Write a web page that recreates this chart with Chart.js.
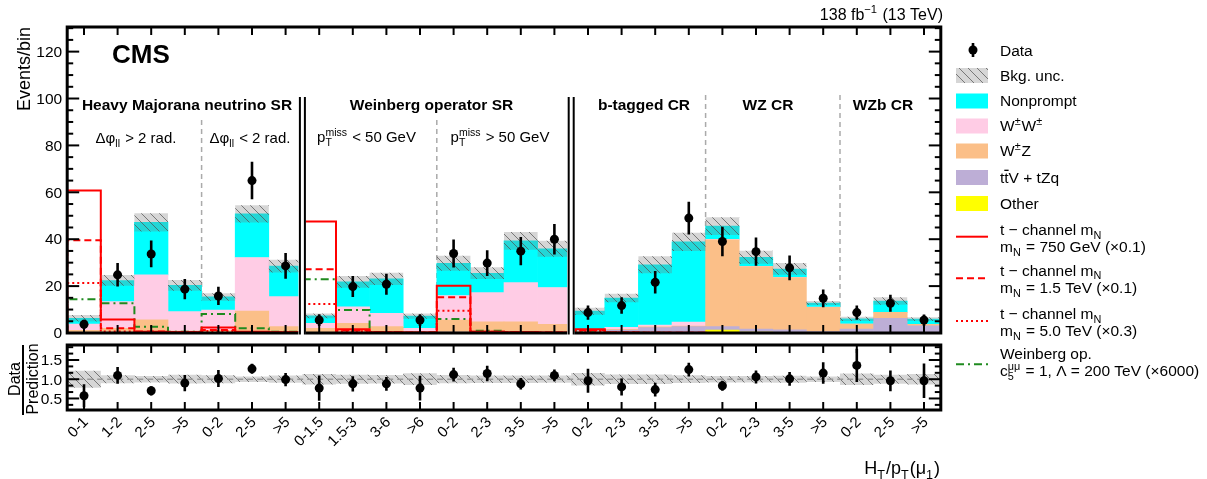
<!DOCTYPE html>
<html lang="en">
<head>
  <meta charset="UTF-8" />
  <title>CMS HT/pT(mu1) yields</title>
  <script src="https://cdn.jsdelivr.net/npm/chart.js"></script>
  <style>
    body { margin: 0; background: #fff; }
    #wrap { position: relative; width: 1207px; height: 479px; }
    canvas { position: absolute; left: 0; }
  </style>
</head>
<body>
  <div id="wrap">
    <canvas id="mainChart" width="1207" height="479" style="top:0"></canvas>
    <canvas id="ratioChart" width="1207" height="139" style="top:340px"></canvas>
  </div>

  <script>
    const binLabels = ['0-1', '1-2', '2-5', '>5', '0-2', '2-5', '>5',
      '0-1.5', '1.5-3', '3-6', '>6', '0-2', '2-3', '3-5', '>5',
      '0-2', '2-3', '3-5', '>5', '0-2', '2-3', '3-5', '>5', '0-2', '2-5', '>5'];
    const panelEdges = [0, 7, 15, 26];
    const subEdges = [4, 11, 19, 23];

    // stacked backgrounds, bottom to top
    const other     = [0.1, 0.1, 0.2, 0.1, 0.1, 0.2, 0.1, 0.1, 0.1, 0.1, 0.0, 0.1, 0.1, 0.1, 0.1, 0.1, 0.1, 0.2, 0.2, 1.2, 0.4, 0.2, 0.1, 0.1, 0.2, 0.1];
    const ttv       = [0.2, 0.3, 0.5, 0.2, 0.2, 0.5, 0.3, 0.2, 0.3, 0.2, 0.1, 0.3, 0.3, 0.3, 0.3, 0.4, 1.1, 2.1, 2.5, 1.5, 1.3, 1.1, 0.5, 1.6, 6.1, 3.0];
    const wz        = [0.8, 1.6, 4.9, 0.5, 0.7, 8.7, 2.3, 1.7, 3.7, 2.4, 0.4, 5.1, 4.4, 4.4, 3.3, 0.2, 0.4, 0.3, 0.3, 37.0, 26.6, 22.3, 10.4, 2.1, 2.5, 0.6];
    const ww        = [2.7, 11.4, 19.2, 8.3, 8.8, 22.8, 12.8, 2.1, 7.1, 5.7, 1.5, 10.5, 12.4, 16.7, 15.7, 0.3, 0.8, 0.8, 1.7, 0.2, 0.1, 0.1, 0.1, 0.0, 0.0, 0.0];
    const nonprompt = [2.5, 9.0, 22.4, 11.2, 5.6, 18.6, 13.0, 3.2, 10.6, 14.7, 5.2, 13.7, 8.3, 17.8, 16.5, 8.3, 12.5, 25.7, 34.2, 5.7, 3.9, 3.6, 1.7, 2.2, 4.8, 2.2];
    const bkgUnc    = [1.4, 2.3, 3.9, 2.3, 1.6, 3.7, 2.7, 1.0, 2.5, 2.6, 1.1, 3.2, 2.5, 3.8, 3.4, 1.5, 1.8, 3.6, 3.9, 3.8, 2.8, 2.5, 0.9, 0.9, 1.6, 0.8];

    const dataVals = [3.7, 24.8, 33.7, 18.7, 15.8, 65.0, 28.6, 5.5, 19.8, 20.8, 5.5, 33.9, 29.8, 34.9, 40.0, 8.7, 11.7, 21.6, 49.0, 39.0, 34.7, 27.8, 14.8, 8.7, 12.7, 5.5];
    const dataErr  = [2.0, 5.0, 5.7, 4.3, 3.9, 8.0, 5.5, 2.5, 4.5, 4.5, 2.5, 6.0, 5.5, 6.0, 6.5, 3.0, 3.5, 4.8, 7.0, 6.3, 6.0, 5.3, 3.8, 3.0, 3.6, 2.4];

    const ratioVals = [0.57, 1.10, 0.70, 0.90, 1.02, 1.27, 0.99, 0.77, 0.88, 0.88, 0.77, 1.12, 1.15, 0.88, 1.10, 0.96, 0.80, 0.73, 1.25, 0.83, 1.06, 1.01, 1.16, 1.36, 0.96, 0.96];
    const ratioErr  = [0.30, 0.22, 0.12, 0.21, 0.22, 0.13, 0.17, 0.33, 0.20, 0.18, 0.32, 0.18, 0.20, 0.15, 0.15, 0.31, 0.22, 0.18, 0.18, 0.13, 0.17, 0.18, 0.28, 0.43, 0.27, 0.45];

    // signals (already scaled as in the legend)
    const sigN750     = [60.8, 5.8, 0.5, 0.3, 2.3, 0.5, 0.3, 47.5, 1.6, 0.3, 0.2, 20.2, 0.5, 0.3, 0.2, 1.6, 0.2, 0.1, 0.1, 0, 0, 0, 0, 0, 0, 0];
    const sigN1500    = [39.6, 2.0, 0.6, 0.3, 1.3, 0.4, 0.2, 27.2, 1.1, 0.3, 0.2, 15.2, 0.5, 0.3, 0.2, 1.2, 0.2, 0.1, 0.1, 0, 0, 0, 0, 0, 0, 0];
    const sigN5000    = [21.3, 0.6, 0.3, 0.2, 0.8, 0.3, 0.2, 12.4, 0.7, 0.2, 0.1, 9.5, 0.4, 0.2, 0.1, 0.8, 0.1, 0.1, 0, 0, 0, 0, 0, 0, 0, 0];
    const sigWeinberg = [14.4, 12.7, 2.7, 0.5, 8.1, 2.0, 0.5, 22.9, 9.8, 0.4, 0.1, 6.0, 1.0, 0.3, 0.1, 1.0, 0.2, 0.1, 0, 0, 0, 0, 0, 0, 0, 0];

    const yTicksMain = [0, 20, 40, 60, 80, 100, 120];
    const yTicksRatio = [0.5, 1.0, 1.5];

    const FONT = '"Liberation Sans", Arial, Helvetica, sans-serif';
    const RED = '#ff0000';
    const GREEN = '#1f8a1f';
    const colors = { other: '#ffff00', ttv: '#bdaed6', wz: '#fbbf88', ww: '#ffcce5', nonprompt: '#00ffff' };

    const mainCanvas = document.getElementById('mainChart');
    const mainCtx = mainCanvas.getContext('2d');

    function makeHatch(ctx) {
      const c = document.createElement('canvas');
      c.width = 9; c.height = 9;
      const g = c.getContext('2d');
      g.fillStyle = 'rgba(120,120,120,0.3)';
      g.fillRect(0, 0, 9, 9);
      g.strokeStyle = 'rgba(80,80,80,0.7)';
      g.lineWidth = 1;
      g.beginPath();
      g.moveTo(0, 0); g.lineTo(9, 9);
      g.moveTo(-1, 8); g.lineTo(1, 10);
      g.moveTo(8, -1); g.lineTo(10, 1);
      g.stroke();
      return ctx.createPattern(c, 'repeat');
    }
    const hatch = makeHatch(mainCtx);

    const totals = nonprompt.map((_, i) => other[i] + ttv[i] + wz[i] + ww[i] + nonprompt[i]);

    function stackSets() {
      const cum = new Array(binLabels.length).fill(0);
      return [[other, colors.other], [ttv, colors.ttv], [wz, colors.wz], [ww, colors.ww], [nonprompt, colors.nonprompt]].map(([vals, col]) => {
        const d = vals.map((v, i) => { const lo = cum[i]; cum[i] += v; return { x: i + 0.5, y: [lo, cum[i]] }; });
        return { type: 'bar', data: d, backgroundColor: col, borderWidth: 0, grouped: false, barPercentage: 1, categoryPercentage: 1, order: 4 };
      });
    }

    function stepPoints(vals) {
      const pts = [];
      for (let p = 0; p < 3; p++) {
        const a = panelEdges[p], b = panelEdges[p + 1];
        pts.push({ x: a, y: 0 });
        for (let i = a; i < b; i++) pts.push({ x: i, y: vals[i] });
        pts.push({ x: b, y: vals[b - 1] });
        pts.push({ x: b, y: 0 });
        pts.push({ x: b, y: null });
      }
      return pts;
    }

    function sigSet(vals, color, dash) {
      return { type: 'line', data: stepPoints(vals), borderColor: color, borderWidth: 2, borderDash: dash, stepped: true, pointRadius: 0, fill: false, spanGaps: false, order: 2 };
    }

    function drawRich(ctx, parts, x, y, size, align, bold) {
      const w0 = bold ? 'bold ' : '';
      const small = size * 0.7;
      const segs = parts.map(p => typeof p === 'string' ? { t: p } : Object.assign({}, p));
      let total = 0;
      segs.forEach(s => {
        if (s.t !== undefined) {
          ctx.font = `${w0}${size}px ${FONT}`;
          s.w = ctx.measureText(s.t).width;
        } else {
          ctx.font = `${small}px ${FONT}`;
          s.w = Math.max(s.sub ? ctx.measureText(s.sub).width : 0, s.sup ? ctx.measureText(s.sup).width : 0) + 1;
        }
        total += s.w;
      });
      let cx = align === 'right' ? x - total : align === 'center' ? x - total / 2 : x;
      ctx.textAlign = 'left';
      ctx.textBaseline = 'alphabetic';
      segs.forEach(s => {
        if (s.t !== undefined) {
          ctx.font = `${w0}${size}px ${FONT}`;
          ctx.fillText(s.t, cx, y);
          if (s.bar) ctx.fillRect(cx, y - size * 0.86, s.w, 1.3);
        } else {
          ctx.font = `${small}px ${FONT}`;
          if (s.sub) ctx.fillText(s.sub, cx, y + size * 0.25);
          if (s.sup) ctx.fillText(s.sup, cx, y - size * 0.42);
        }
        cx += s.w;
      });
    }

    function line(ctx, x1, y1, x2, y2) {
      ctx.beginPath(); ctx.moveTo(x1, y1); ctx.lineTo(x2, y2); ctx.stroke();
    }

    function drawErrors(chart, vals, errs) {
      const { ctx, chartArea: a, scales: { x, y } } = chart;
      ctx.save();
      ctx.beginPath(); ctx.rect(a.left, a.top, a.width, a.height); ctx.clip();
      ctx.strokeStyle = '#000';
      ctx.lineWidth = 2.6;
      vals.forEach((v, i) => {
        const px = x.getPixelForValue(i + 0.5);
        line(ctx, px, y.getPixelForValue(v - errs[i]), px, y.getPixelForValue(v + errs[i]));
      });
      ctx.restore();
    }

    function drawFrame(chart, major, minor, fmt) {
      const { ctx, chartArea: a, scales: { x, y } } = chart;
      ctx.save();
      ctx.strokeStyle = '#000';
      ctx.lineWidth = 2;
      for (let i = 0; i < binLabels.length; i++) {
        const px = x.getPixelForValue(i + 0.5);
        line(ctx, px, a.top, px, a.top + 8);
        line(ctx, px, a.bottom, px, a.bottom - 8);
      }
      minor.forEach(v => {
        const py = y.getPixelForValue(v);
        line(ctx, a.left, py, a.left + 6, py);
        line(ctx, a.right, py, a.right - 6, py);
      });
      major.forEach(v => {
        const py = y.getPixelForValue(v);
        line(ctx, a.left, py, a.left + 12, py);
        line(ctx, a.right, py, a.right - 12, py);
      });
      ctx.lineWidth = 3;
      ctx.strokeRect(a.left, a.top, a.width, a.height);
      ctx.fillStyle = '#000';
      ctx.font = `15.5px ${FONT}`;
      ctx.textAlign = 'right';
      ctx.textBaseline = 'middle';
      major.forEach(v => ctx.fillText(fmt(v), a.left - 5, y.getPixelForValue(v) + 1));
      ctx.restore();
    }

    function drawLegend(ctx) {
      const bx = 956, bw = 32, tx = 1000, fs = 15.5;
      ctx.save();
      ctx.fillStyle = '#000';
      // Data
      ctx.lineWidth = 2.6; ctx.strokeStyle = '#000';
      line(ctx, bx + 17, 43, bx + 17, 57);
      ctx.beginPath(); ctx.arc(bx + 17, 50, 4.5, 0, Math.PI * 2); ctx.fill();
      drawRich(ctx, ['Data'], tx, 55.5, fs);
      // boxes
      const boxes = [
        [hatch, 68, ['Bkg. unc.'], 75],
        [colors.nonprompt, 93.5, ['Nonprompt'], 100.7],
        [colors.ww, 118.5, ['W', { sup: '±' }, 'W', { sup: '±' }], 125.7],
        [colors.wz, 143.5, ['W', { sup: '±' }, 'Z'], 150.7],
        [colors.ttv, 170, ['t', { t: 't', bar: true }, 'V + tZq'], 177.5],
        [colors.other, 196, ['Other'], 203.3]
      ];
      boxes.forEach(([fill, top, parts, yc]) => {
        ctx.fillStyle = fill;
        ctx.fillRect(bx, top, bw, 15);
        ctx.fillStyle = '#000';
        drawRich(ctx, parts, tx, yc + 5.5, fs);
      });
      const lines = [
        [RED, [], 236.7, ['t − channel m', { sub: 'N' }], ['m', { sub: 'N' }, ' = 750 GeV (×0.1)'], 229.3],
        [RED, [7, 4], 278.3, ['t − channel m', { sub: 'N' }], ['m', { sub: 'N' }, ' = 1.5 TeV (×0.1)'], 270],
        [RED, [2, 3], 321, ['t − channel m', { sub: 'N' }], ['m', { sub: 'N' }, ' = 5.0 TeV (×0.3)'], 313.3],
        [GREEN, [8, 4, 2, 4], 364.3, ['Weinberg op.'], ['c', { sub: '5', sup: 'μμ' }, ' = 1, Λ = 200 TeV (×6000)'], 353.3]
      ];
      lines.forEach(([col, dash, ly, l1, l2, yc]) => {
        ctx.strokeStyle = col; ctx.lineWidth = 2; ctx.setLineDash(dash);
        line(ctx, bx, ly, bx + bw, ly);
        ctx.setLineDash([]);
        drawRich(ctx, l1, tx, yc + 5.5, fs);
        drawRich(ctx, l2, tx, yc + 23, fs);
      });
      ctx.restore();
    }

    const mainDecor = {
      id: 'mainDecor',
      beforeDatasetsDraw(chart) {
        const { ctx, chartArea: a, scales: { x } } = chart;
        const tops = [120, 120, 95, 95];
        ctx.save();
        ctx.strokeStyle = '#aaaaaa'; ctx.lineWidth = 1.5; ctx.setLineDash([5, 4]);
        subEdges.forEach((e, k) => {
          const px = x.getPixelForValue(e);
          line(ctx, px, tops[k], px, a.bottom);
        });
        ctx.restore();
      },
      afterDatasetsDraw(chart) {
        const { ctx, chartArea: a, scales: { x } } = chart;
        drawErrors(chart, dataVals, dataErr);
        const minor = [];
        for (let v = 5; v <= 130; v += 5) if (v % 20 !== 0) minor.push(v);
        drawFrame(chart, yTicksMain, minor, v => String(v));

        // panel separators
        ctx.save();
        [panelEdges[1], panelEdges[2]].forEach(e => {
          const px = x.getPixelForValue(e);
          ctx.fillStyle = '#fff';
          ctx.fillRect(px - 4, 97, 7.5, a.bottom + 3 - 97);
          ctx.fillStyle = '#000';
          ctx.fillRect(px - 3.5, 97, 2, a.bottom + 1.5 - 97);
          ctx.fillRect(px + 1.5, 97, 2, a.bottom + 1.5 - 97);
        });

        ctx.fillStyle = '#000';
        ctx.save();
        ctx.translate(30, 27); ctx.rotate(-Math.PI / 2);
        ctx.font = `18px ${FONT}`; ctx.textAlign = 'right'; ctx.textBaseline = 'alphabetic';
        ctx.fillText('Events/bin', 0, 0);
        ctx.restore();

        drawRich(ctx, ['138 fb', { sup: '−1' }, ' (13 TeV)'], 943, 20, 16, 'right');
        drawRich(ctx, ['CMS'], 112, 63, 26, 'left', true);

        const heads = [['Heavy Majorana neutrino SR', 187], ['Weinberg operator SR', 431.5], ['b-tagged CR', 644], ['WZ CR', 768], ['WZb CR', 883]];
        heads.forEach(([t, cx]) => drawRich(ctx, [t], cx, 110, 15.5, 'center', true));
        drawRich(ctx, ['Δφ', { sub: 'll' }, ' > 2 rad.'], 136, 143, 15, 'center');
        drawRich(ctx, ['Δφ', { sub: 'll' }, ' < 2 rad.'], 250, 143, 15, 'center');
        drawRich(ctx, ['p', { sub: 'T', sup: 'miss' }, ' < 50 GeV'], 366.5, 142, 15, 'center');
        drawRich(ctx, ['p', { sub: 'T', sup: 'miss' }, ' > 50 GeV'], 500, 142, 15, 'center');

        drawLegend(ctx);
        ctx.restore();
      }
    };

    const mainChart = new Chart(mainCtx, {
      type: 'bar',
      data: {
        datasets: [
          { type: 'scatter', data: dataVals.map((v, i) => ({ x: i + 0.5, y: v })), backgroundColor: '#000', borderWidth: 0, pointRadius: 4.5, order: 0 },
          sigSet(sigN750, RED, []),
          sigSet(sigN1500, RED, [7, 4]),
          sigSet(sigN5000, RED, [2, 3]),
          sigSet(sigWeinberg, GREEN, [8, 4, 2, 4]),
          { type: 'bar', data: totals.map((t, i) => ({ x: i + 0.5, y: [t - bkgUnc[i], t + bkgUnc[i]] })), backgroundColor: hatch, borderWidth: 0, inflateAmount: 0, grouped: false, barPercentage: 1, categoryPercentage: 1, order: 3 },
          ...stackSets()
        ]
      },
      options: {
        responsive: false,
        animation: false,
        events: [],
        layout: { padding: { left: 67.2, right: 1207 - 940.8, top: 27, bottom: 479 - 333 } },
        plugins: { legend: { display: false }, tooltip: { enabled: false } },
        scales: {
          x: { type: 'linear', min: 0, max: 26, offset: false, display: false, ticks: { stepSize: 1 } },
          y: { type: 'linear', min: 0, max: 130.5, display: false }
        }
      },
      plugins: [mainDecor]
    });

    const ratioDecor = {
      id: 'ratioDecor',
      afterDatasetsDraw(chart) {
        const { ctx, scales: { x } } = chart;
        drawErrors(chart, ratioVals, ratioErr);
        const minor = [];
        for (let k = 2; k <= 11; k++) if (k % 3 !== 0) minor.push(k / 6);
        drawFrame(chart, yTicksRatio, minor, v => v.toFixed(1));

        ctx.save();
        ctx.fillStyle = '#000';
        ctx.font = `15px ${FONT}`;
        binLabels.forEach((t, i) => {
          const px = x.getPixelForValue(i + 0.5);
          ctx.save();
          ctx.translate(px + 2, 80); ctx.rotate(-Math.PI / 4);
          ctx.textAlign = 'right'; ctx.textBaseline = 'middle';
          ctx.fillText(t, 0, 0);
          ctx.restore();
        });

        drawRich(ctx, ['H', { sub: 'T' }, '/p', { sub: 'T' }, '(μ', { sub: '1' }, ')'], 940, 134, 18, 'right');

        ctx.save();
        ctx.translate(0, 39); ctx.rotate(-Math.PI / 2);
        ctx.font = `16px ${FONT}`; ctx.textAlign = 'center'; ctx.textBaseline = 'alphabetic';
        ctx.fillText('Data', 0, 19.5);
        ctx.fillText('Prediction', 0, 38);
        ctx.restore();
        ctx.fillRect(22, 5, 2, 70);
        ctx.restore();
      }
    };

    const ratioChart = new Chart(document.getElementById('ratioChart').getContext('2d'), {
      type: 'bar',
      data: {
        datasets: [
          { type: 'scatter', data: ratioVals.map((v, i) => ({ x: i + 0.5, y: v })), backgroundColor: '#000', borderWidth: 0, pointRadius: 4.5, order: 0 },
          { type: 'line', data: [{ x: 0, y: 1 }, { x: 26, y: 1 }], borderColor: '#999', borderWidth: 1.5, borderDash: [6, 4], pointRadius: 0, order: 1 },
          { type: 'bar', data: totals.map((t, i) => ({ x: i + 0.5, y: [1 - bkgUnc[i] / t, 1 + bkgUnc[i] / t] })), backgroundColor: hatch, borderWidth: 0, inflateAmount: 0, grouped: false, barPercentage: 1, categoryPercentage: 1, order: 2 }
        ]
      },
      options: {
        responsive: false,
        animation: false,
        events: [],
        layout: { padding: { left: 67.2, right: 1207 - 940.8, top: 5, bottom: 69 } },
        plugins: { legend: { display: false }, tooltip: { enabled: false } },
        scales: {
          x: { type: 'linear', min: 0, max: 26, offset: false, display: false, ticks: { stepSize: 1 } },
          y: { type: 'linear', min: 0.2, max: 1.89, display: false }
        }
      },
      plugins: [ratioDecor]
    });
  </script>
</body>
</html>
